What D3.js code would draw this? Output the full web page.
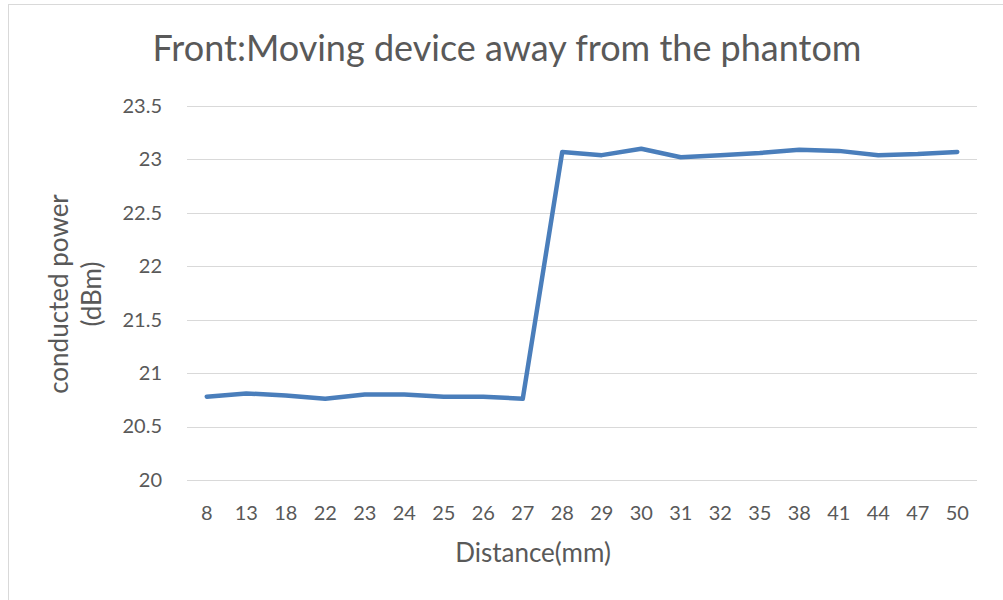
<!DOCTYPE html>
<html>
<head>
<meta charset="utf-8">
<script src="https://cdn.jsdelivr.net/npm/d3@7"></script>
<style>
  html, body { margin: 0; padding: 0; background: #fff; }
  svg { display: block; }
  text { font-family: "Lato", "Open Sans", sans-serif; fill: #595959; }
</style>
</head>
<body>
<svg id="chart" width="1003" height="600"></svg>
<script>
// Distance from the phantom (mm), plotted as categories
const distances = ["8", "13", "18", "22", "23", "24", "25", "26", "27", "28",
                   "29", "30", "31", "32", "35", "38", "41", "44", "47", "50"];
// Conducted power (dBm) at each distance
const power = [20.78, 20.81, 20.79, 20.76, 20.80, 20.80, 20.78, 20.78, 20.76, 23.07,
               23.04, 23.10, 23.02, 23.04, 23.06, 23.09, 23.08, 23.04, 23.05, 23.07];
const yTicks = [20, 20.5, 21, 21.5, 22, 22.5, 23, 23.5];

const svg = d3.select("#chart");
const W = 1003, H = 600;
const plot = { left: 187, right: 977, top: 106, bottom: 480 };

// chart frame
svg.append("rect")
  .attr("x", 8.5).attr("y", 4.5)
  .attr("width", W + 10).attr("height", H + 10)
  .attr("fill", "#fff").attr("stroke", "#d9d9d9").attr("stroke-width", 1);

const x = d3.scaleBand().domain(distances).range([plot.left, plot.right]);
const y = d3.scaleLinear().domain([20, 23.5]).range([plot.bottom, plot.top]);

// horizontal gridlines
svg.append("g")
  .selectAll("line")
  .data(yTicks)
  .join("line")
  .attr("x1", plot.left).attr("x2", plot.right)
  .attr("y1", d => Math.round(y(d)) + 0.5).attr("y2", d => Math.round(y(d)) + 0.5)
  .attr("stroke", "#d9d9d9").attr("stroke-width", 1);

// y axis labels
const yAxis = d3.axisLeft(y).tickValues(yTicks).tickSize(0).tickPadding(0)
  .tickFormat(d3.format("~g"));
svg.append("g")
  .attr("transform", `translate(162,0)`)
  .call(yAxis)
  .call(g => g.select(".domain").remove())
  .selectAll("text")
  .attr("font-size", 20).attr("fill", "#595959")
  .style("font-family", "Lato, sans-serif");

// x axis labels
const xAxis = d3.axisBottom(x).tickSize(0).tickPadding(0);
svg.append("g")
  .attr("transform", `translate(0,${plot.bottom + 26})`)
  .call(xAxis)
  .call(g => g.select(".domain").remove())
  .selectAll("text")
  .attr("font-size", 20).attr("fill", "#595959")
  .style("font-family", "Lato, sans-serif");

// data line
const line = d3.line()
  .x((d, i) => x(distances[i]) + x.bandwidth() / 2)
  .y(d => y(d));
svg.append("path")
  .datum(power)
  .attr("d", line)
  .attr("fill", "none")
  .attr("stroke", "#4a7ebb")
  .attr("stroke-width", 4.5)
  .attr("stroke-linejoin", "round")
  .attr("stroke-linecap", "round");

// title
svg.append("text")
  .attr("x", 507).attr("y", 61)
  .attr("text-anchor", "middle")
  .attr("font-size", 36)
  .text("Front:Moving device away from the phantom");

// x axis title
svg.append("text")
  .attr("x", 533).attr("y", 562)
  .attr("text-anchor", "middle")
  .attr("font-size", 26)
  .text("Distance(mm)");

// y axis title (two lines)
const yt = svg.append("text")
  .attr("transform", "translate(68,294) rotate(-90)")
  .attr("text-anchor", "middle")
  .attr("font-size", 26);
yt.append("tspan").attr("x", 0).attr("dy", 0).text("conducted power");
yt.append("tspan").attr("x", 0).attr("dy", 33).text("(dBm)");
</script>
</body>
</html>
